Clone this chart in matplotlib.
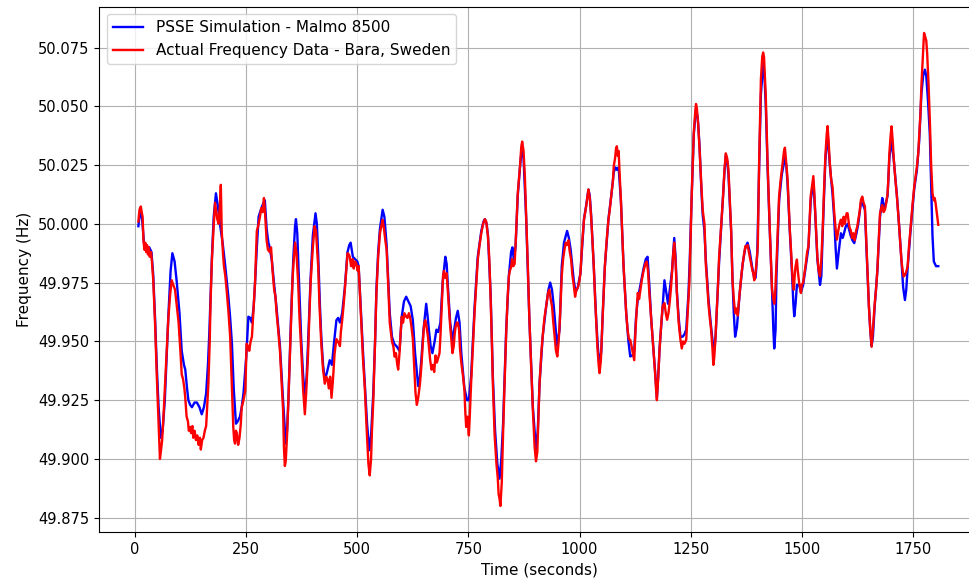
import matplotlib
matplotlib.use("Agg")
import matplotlib.pyplot as plt

# PSSE simulation (blue)
sim_time = [
    7.5, 10, 13, 16, 20, 25, 32, 37, 41, 45, 49, 53, 58, 62, 67, 71, 75, 80, 84, 89,
    94, 100, 105, 110, 113, 117, 120, 124, 128, 134, 139, 145, 150, 155, 160, 164, 167, 170, 173, 177,
    182, 186, 191, 197, 203, 210, 214, 218, 222, 227, 231, 236, 240, 244, 250, 255, 259, 263, 267, 270,
    274, 278, 283, 289, 292, 296, 300, 303, 308, 313, 318, 326, 333, 339, 342, 345, 351, 356, 360, 362,
    365, 367, 374, 378, 382, 386, 389, 395, 400, 406, 409, 412, 416, 419, 423, 427, 432, 438, 443, 448,
    453, 457, 461, 466, 472, 478, 482, 485, 490, 495, 500, 503, 509, 513, 517, 522, 527, 531, 536, 540,
    543, 547, 551, 557, 561, 566, 570, 573, 578, 583, 588, 595, 600, 605, 610, 615, 620, 625, 630, 637,
    641, 644, 649, 655, 658, 661, 665, 669, 674, 678, 682, 687, 692, 698, 701, 704, 709, 714, 718, 722,
    726, 730, 734, 741, 747, 751, 756, 760, 764, 771, 779, 784, 787, 791, 794, 800, 805, 810, 815, 820,
    824, 828, 835, 841, 846, 849, 852, 856, 861, 866, 870, 874, 880, 887, 895, 902, 906, 910, 917, 925,
    930, 934, 938, 942, 946, 950, 955, 960, 965, 972, 976, 980, 987, 991, 996, 1002, 1010, 1015, 1020, 1023,
    1026, 1032, 1037, 1041, 1045, 1049, 1052, 1057, 1065, 1072, 1077, 1081, 1084, 1088, 1093, 1099, 1105, 1110, 1114, 1119,
    1123, 1127, 1131, 1138, 1144, 1149, 1153, 1157, 1161, 1165, 1170, 1174, 1177, 1180, 1187, 1191, 1195, 1199, 1203, 1208,
    1213, 1216, 1219, 1223, 1227, 1232, 1236, 1240, 1245, 1248, 1252, 1257, 1262, 1266, 1270, 1274, 1277, 1281, 1284, 1290,
    1296, 1300, 1303, 1306, 1308, 1314, 1320, 1326, 1329, 1332, 1335, 1341, 1344, 1347, 1350, 1354, 1361, 1367, 1373, 1378,
    1383, 1388, 1393, 1396, 1400, 1404, 1408, 1413, 1416, 1419, 1423, 1428, 1433, 1436, 1438, 1441, 1443, 1449, 1455, 1462,
    1465, 1468, 1473, 1478, 1481, 1483, 1486, 1489, 1494, 1498, 1503, 1509, 1515, 1520, 1526, 1530, 1535, 1541, 1544, 1547,
    1553, 1558, 1563, 1569, 1573, 1576, 1579, 1583, 1588, 1592, 1595, 1599, 1603, 1610, 1614, 1618, 1623, 1627, 1633, 1636,
    1642, 1646, 1651, 1654, 1657, 1660, 1664, 1670, 1676, 1681, 1684, 1687, 1693, 1697, 1702, 1707, 1714, 1719, 1724, 1728,
    1732, 1735, 1738, 1745, 1753, 1759, 1764, 1769, 1773, 1777, 1780, 1784, 1788, 1792, 1794, 1797, 1802, 1807,
]
sim_freq = [
    49.999, 50.003, 50.005, 50.002, 49.992, 49.990, 49.990, 49.988, 49.978, 49.960, 49.939, 49.922, 49.909, 49.912, 49.925, 49.943, 49.961, 49.980, 49.9875, 49.984,
    49.975, 49.962, 49.946, 49.940, 49.938, 49.930, 49.925, 49.923, 49.922, 49.924, 49.924, 49.922, 49.919, 49.922, 49.928, 49.940, 49.953, 49.970, 49.986, 50.003,
    50.013, 50.008, 50.000, 49.992, 49.982, 49.969, 49.960, 49.949, 49.930, 49.915, 49.916, 49.918, 49.922, 49.928, 49.943, 49.9605, 49.960, 49.958, 49.965, 49.975,
    49.990, 50.003, 50.006, 50.009, 50.010, 49.998, 49.992, 49.990, 49.984, 49.974, 49.965, 49.948, 49.925, 49.9065, 49.912, 49.925, 49.9605, 49.985, 49.999, 50.002,
    49.996, 49.985, 49.950, 49.936, 49.926, 49.935, 49.948, 49.977, 49.995, 50.0045, 50.000, 49.987, 49.965, 49.952, 49.940, 49.9335, 49.937, 49.942, 49.940, 49.950,
    49.959, 49.960, 49.958, 49.962, 49.973, 49.988, 49.991, 49.992, 49.986, 49.985, 49.984, 49.982, 49.960, 49.945, 49.932, 49.915, 49.9037, 49.910, 49.928, 49.950,
    49.972, 49.988, 49.998, 50.006, 50.003, 49.991, 49.975, 49.962, 49.952, 49.949, 49.948, 49.946, 49.9605, 49.967, 49.969, 49.967, 49.965, 49.959, 49.945, 49.931,
    49.935, 49.942, 49.955, 49.966, 49.961, 49.955, 49.948, 49.945, 49.950, 49.955, 49.954, 49.958, 49.975, 49.986, 49.983, 49.973, 49.958, 49.950, 49.955, 49.960,
    49.963, 49.958, 49.945, 49.930, 49.925, 49.925, 49.935, 49.950, 49.965, 49.986, 49.997, 50.001, 50.002, 50.000, 49.995, 49.970, 49.935, 49.912, 49.898, 49.8916,
    49.900, 49.915, 49.955, 49.978, 49.988, 49.990, 49.985, 49.990, 50.012, 50.024, 50.032, 50.028, 50.002, 49.960, 49.922, 49.904, 49.912, 49.932, 49.952, 49.965,
    49.972, 49.975, 49.972, 49.965, 49.956, 49.948, 49.955, 49.982, 49.992, 49.997, 49.994, 49.989, 49.976, 49.971, 49.973, 49.979, 50.002, 50.008, 50.0146, 50.012,
    50.004, 49.982, 49.961, 49.948, 49.9393, 49.946, 49.961, 49.982, 50.002, 50.013, 50.022, 50.024, 50.023, 50.024, 50.010, 49.982, 49.962, 49.950, 49.9436, 49.944,
    49.946, 49.960, 49.968, 49.975, 49.981, 49.985, 49.986, 49.974, 49.960, 49.950, 49.937, 49.926, 49.935, 49.947, 49.965, 49.976, 49.971, 49.966, 49.972, 49.980,
    49.994, 49.986, 49.971, 49.960, 49.952, 49.952, 49.953, 49.955, 49.970, 49.985, 50.010, 50.038, 50.049, 50.045, 50.033, 50.015, 50.004, 49.997, 49.985, 49.968,
    49.956, 49.949, 49.9465, 49.952, 49.960, 49.984, 50.003, 50.022, 50.029, 50.027, 50.021, 49.997, 49.977, 49.962, 49.952, 49.956, 49.972, 49.983, 49.990, 49.992,
    49.988, 49.982, 49.977, 49.977, 49.988, 50.024, 50.055, 50.068, 50.063, 50.050, 50.024, 49.997, 49.972, 49.955, 49.947, 49.955, 49.978, 50.010, 50.021, 50.028,
    50.025, 50.017, 49.997, 49.979, 49.966, 49.9607, 49.966, 49.974, 49.974, 49.971, 49.974, 49.982, 49.990, 50.010, 50.018, 50.005, 49.985, 49.974, 49.978, 49.996,
    50.027, 50.0388, 50.025, 50.013, 50.002, 49.990, 49.981, 49.988, 49.996, 49.994, 49.996, 49.999, 50.000, 49.995, 49.993, 49.9918, 49.996, 50.000, 50.009, 50.009,
    50.006, 49.987, 49.965, 49.955, 49.948, 49.952, 49.965, 49.980, 50.003, 50.011, 50.008, 50.007, 50.012, 50.028, 50.0358, 50.027, 50.012, 49.999, 49.985, 49.973,
    49.9676, 49.972, 49.981, 49.998, 50.015, 50.023, 50.035, 50.055, 50.063, 50.0656, 50.063, 50.052, 50.038, 50.010, 49.995, 49.984, 49.982, 49.982,
]

# Measured frequency at Bara (red)
meas_time = [
    7.5, 10, 13, 15, 17, 19, 21, 23, 25, 27, 29, 31, 33, 36, 38, 41, 45, 49, 53, 56,
    58, 61, 64, 67, 71, 75, 79, 82.6, 86, 90, 94, 98, 102, 105, 108, 111, 113, 116, 119, 121,
    124, 126, 129, 131, 134, 137, 140, 143, 146, 148, 151, 154, 157, 160, 163, 165, 168, 170, 173, 176,
    180, 183, 185, 188, 191, 193, 195, 198, 200, 203, 206, 210, 214, 217, 221, 223, 225, 227, 229, 232,
    235, 238, 240, 244, 248, 251, 254, 257, 260, 263, 266, 270, 274, 277, 281, 284, 287, 290, 293, 296,
    299, 303, 306, 309, 313, 316, 318, 322, 326, 330, 333, 335, 337, 339, 342, 345, 348, 351, 354, 356,
    360, 363, 367, 370, 374, 378, 382, 385, 389, 392, 395, 400, 404, 407, 410, 412, 415, 419, 423, 427,
    430, 433, 436, 439, 442, 445, 449, 453, 456, 459, 461, 463, 466, 469, 472, 475, 478, 481, 483, 486,
    489, 492, 495, 498, 501, 503, 506, 509, 513, 517, 521, 525, 528, 531, 533, 536, 540, 543, 547, 551,
    554, 557, 560, 563, 566, 570, 573, 576, 578, 581, 584, 587, 590, 592, 595, 598, 600, 603, 606, 610,
    613, 616, 619, 622, 625, 629, 631, 634, 637, 641, 644, 647, 649, 651, 653, 656, 659, 661, 664, 667,
    670, 673, 676, 679, 682, 685, 687, 690, 693, 695, 698, 701, 704, 707, 709, 712, 714, 717, 719, 721,
    724, 726, 729, 731, 734, 738, 741, 743, 745, 748, 751, 753, 756, 760, 764, 768, 771, 775, 779, 783,
    787, 790, 794, 797, 800, 803, 805, 809, 813, 816, 818, 820, 822, 825, 828, 831, 835, 838, 841, 843,
    846, 848, 851, 854, 857, 861, 864, 866, 869, 871, 874, 877, 880, 884, 887, 891, 895, 899, 902, 905,
    908, 910, 914, 917, 921, 925, 929, 932, 935, 938, 941, 944, 947, 950, 953, 956, 960, 963, 966, 969,
    972, 975, 978, 981, 984, 987, 990, 993, 996, 999, 1002, 1006, 1010, 1015, 1018, 1020, 1023, 1026, 1029, 1032,
    1035, 1037, 1040, 1043, 1045, 1048, 1052, 1057, 1061, 1065, 1068, 1072, 1075, 1077, 1080, 1082, 1084, 1086, 1088, 1090,
    1093, 1096, 1099, 1102, 1105, 1108, 1111, 1114, 1117, 1120, 1123, 1126, 1129, 1131, 1134, 1137, 1140, 1144, 1148, 1151,
    1154, 1157, 1161, 1165, 1168, 1170, 1172, 1174, 1177, 1180, 1184, 1187, 1191, 1194, 1197, 1200, 1203, 1206, 1209, 1211,
    1213, 1216, 1219, 1223, 1227, 1230, 1233, 1236, 1240, 1244, 1247, 1250, 1252, 1255, 1257, 1260, 1262, 1264, 1267, 1270,
    1273, 1277, 1281, 1284, 1287, 1290, 1293, 1296, 1299, 1301, 1303, 1306, 1308, 1311, 1314, 1317, 1320, 1323, 1326, 1329,
    1332, 1335, 1338, 1341, 1344, 1347, 1350, 1353, 1356, 1358, 1361, 1364, 1367, 1370, 1373, 1376, 1378, 1381, 1384, 1386,
    1389, 1391, 1393, 1395, 1398, 1401, 1404, 1408, 1411, 1413, 1415, 1417, 1419, 1423, 1428, 1431, 1433, 1436, 1438, 1440,
    1443, 1446, 1449, 1452, 1455, 1458, 1460, 1462, 1465, 1468, 1471, 1473, 1476, 1478, 1480, 1482, 1484, 1486, 1489, 1491,
    1494, 1496, 1498, 1500, 1503, 1506, 1509, 1512, 1515, 1518, 1520, 1523, 1526, 1528, 1530, 1533, 1535, 1538, 1541, 1544,
    1547, 1550, 1553, 1556, 1558, 1560, 1563, 1566, 1569, 1571, 1573, 1576, 1579, 1582, 1585, 1588, 1591, 1594, 1597, 1599,
    1601, 1603, 1606, 1608, 1610, 1613, 1616, 1619, 1622, 1625, 1627, 1630, 1633, 1636, 1639, 1642, 1644, 1646, 1649, 1651,
    1654, 1657, 1660, 1664, 1667, 1670, 1673, 1676, 1679, 1681, 1684, 1687, 1690, 1693, 1695, 1697, 1700, 1702, 1705, 1707,
    1710, 1714, 1717, 1719, 1722, 1724, 1727, 1729, 1731, 1734, 1738, 1741, 1745, 1749, 1753, 1756, 1759, 1762, 1764, 1767,
    1769, 1772, 1775, 1777, 1780, 1782, 1785, 1788, 1791, 1794, 1797, 1799, 1801, 1804, 1807,
]
meas_freq = [
    50.001, 50.006, 50.0074, 50.005, 50.003, 49.993, 49.989, 49.992, 49.988, 49.991, 49.987, 49.990, 49.986, 49.988, 49.984, 49.976, 49.958, 49.935, 49.915, 49.900,
    49.903, 49.908, 49.918, 49.930, 49.945, 49.960, 49.970, 49.976, 49.974, 49.972, 49.965, 49.958, 49.946, 49.936, 49.934, 49.930, 49.926, 49.918, 49.916, 49.912,
    49.9136, 49.911, 49.914, 49.909, 49.912, 49.908, 49.910, 49.906, 49.909, 49.904, 49.908, 49.909, 49.912, 49.914, 49.925, 49.932, 49.950, 49.9676, 49.985, 49.996,
    50.009, 50.005, 50.002, 50.000, 50.008, 50.0166, 49.997, 49.987, 49.982, 49.978, 49.972, 49.963, 49.952, 49.935, 49.9136, 49.908, 49.9065, 49.912, 49.911, 49.906,
    49.909, 49.915, 49.922, 49.925, 49.929, 49.949, 49.948, 49.946, 49.950, 49.952, 49.962, 49.975, 49.997, 49.999, 50.003, 50.0067, 50.005, 50.011, 50.003, 49.993,
    49.989, 49.988, 49.990, 49.981, 49.972, 49.969, 49.963, 49.955, 49.946, 49.932, 49.921, 49.905, 49.897, 49.899, 49.910, 49.925, 49.942, 49.960, 49.975, 49.982,
    49.992, 49.988, 49.975, 49.960, 49.946, 49.930, 49.919, 49.928, 49.9435, 49.960, 49.975, 49.990, 49.999, 49.997, 49.988, 49.982, 49.965, 49.949, 49.938, 49.932,
    49.935, 49.934, 49.930, 49.935, 49.926, 49.933, 49.945, 49.951, 49.950, 49.949, 49.948, 49.954, 49.959, 49.965, 49.972, 49.980, 49.9875, 49.987, 49.986, 49.982,
    49.985, 49.981, 49.984, 49.983, 49.980, 49.982, 49.970, 49.958, 49.942, 49.930, 49.913, 49.898, 49.893, 49.900, 49.912, 49.925, 49.950, 49.9705, 49.986, 49.996,
    49.999, 50.0017, 49.998, 49.993, 49.989, 49.972, 49.958, 49.953, 49.950, 49.948, 49.9435, 49.945, 49.940, 49.938, 49.945, 49.955, 49.9605, 49.958, 49.962, 49.9605,
    49.960, 49.962, 49.960, 49.956, 49.951, 49.935, 49.928, 49.923, 49.926, 49.932, 49.939, 49.948, 49.954, 49.958, 49.959, 49.956, 49.952, 49.948, 49.942, 49.938,
    49.940, 49.937, 49.944, 49.941, 49.943, 49.945, 49.952, 49.965, 49.978, 49.980, 49.977, 49.979, 49.9705, 49.962, 49.9563, 49.950, 49.945, 49.948, 49.953, 49.956,
    49.958, 49.958, 49.955, 49.947, 49.941, 49.935, 49.9293, 49.920, 49.9136, 49.918, 49.910, 49.918, 49.932, 49.948, 49.963, 49.975, 49.9847, 49.991, 49.996, 50.000,
    50.002, 50.001, 49.9946, 49.985, 49.968, 49.948, 49.932, 49.910, 49.898, 49.892, 49.885, 49.883, 49.880, 49.890, 49.911, 49.930, 49.9535, 49.968, 49.9776, 49.980,
    49.9815, 49.985, 49.982, 49.983, 49.995, 50.013, 50.020, 50.0244, 50.033, 50.035, 50.031, 50.020, 50.003, 49.980, 49.9605, 49.940, 49.9208, 49.905, 49.899, 49.903,
    49.920, 49.932, 49.945, 49.952, 49.960, 49.965, 49.9705, 49.972, 49.968, 49.965, 49.958, 49.952, 49.946, 49.9436, 49.950, 49.960, 49.978, 49.985, 49.989, 49.992,
    49.991, 49.993, 49.988, 49.985, 49.978, 49.974, 49.969, 49.972, 49.9727, 49.975, 49.979, 49.992, 50.0018, 50.0075, 50.012, 50.0146, 50.011, 50.003, 49.993, 49.982,
    49.968, 49.9607, 49.948, 49.940, 49.9365, 49.942, 49.9607, 49.982, 49.993, 50.0018, 50.006, 50.0132, 50.018, 50.0246, 50.028, 50.032, 50.033, 50.029, 50.031, 50.022,
    50.0104, 49.996, 49.982, 49.972, 49.962, 49.955, 49.951, 49.9507, 49.948, 49.945, 49.942, 49.955, 49.965, 49.9706, 49.968, 49.972, 49.976, 49.980, 49.983, 49.984,
    49.980, 49.9706, 49.960, 49.9493, 49.942, 49.9365, 49.930, 49.925, 49.935, 49.9465, 49.958, 49.965, 49.9663, 49.962, 49.9592, 49.962, 49.967, 49.9734, 49.982, 49.988,
    49.992, 49.984, 49.9706, 49.958, 49.9507, 49.947, 49.950, 49.949, 49.9507, 49.965, 49.975, 49.995, 50.0104, 50.028, 50.0388, 50.047, 50.051, 50.049, 50.042, 50.0317,
    50.020, 50.006, 50.000, 49.983, 49.975, 49.966, 49.960, 49.955, 49.947, 49.940, 49.943, 49.952, 49.9607, 49.972, 49.986, 49.995, 50.0033, 50.012, 50.023, 50.030,
    50.028, 50.023, 50.010, 49.9976, 49.9763, 49.968, 49.962, 49.964, 49.961, 49.966, 49.972, 49.978, 49.983, 49.987, 49.9905, 49.990, 49.991, 49.988, 49.985, 49.983,
    49.980, 49.979, 49.976, 49.9777, 49.983, 49.9905, 50.026, 50.0615, 50.071, 50.0729, 50.071, 50.063, 50.054, 50.026, 49.9976, 49.982, 49.972, 49.968, 49.966, 49.970,
    49.983, 49.998, 50.0118, 50.018, 50.023, 50.028, 50.031, 50.0324, 50.026, 50.019, 50.006, 49.9976, 49.988, 49.9805, 49.975, 49.972, 49.978, 49.982, 49.9848, 49.980,
    49.975, 49.973, 49.9706, 49.974, 49.975, 49.979, 49.983, 49.988, 49.9905, 50.003, 50.0118, 50.016, 50.0203, 50.014, 50.006, 49.995, 49.986, 49.980, 49.9777, 49.985,
    49.9976, 50.014, 50.0288, 50.038, 50.0416, 50.036, 50.026, 50.019, 50.016, 50.010, 50.0047, 49.998, 49.9933, 49.997, 50.000, 50.0018, 49.999, 50.003, 50.000, 50.003,
    50.0045, 50.0045, 50.000, 49.998, 49.9974, 49.994, 49.996, 49.993, 49.997, 49.999, 50.0017, 50.005, 50.0102, 50.0116, 50.009, 50.0074, 49.998, 49.9875, 49.975, 49.9648,
    49.955, 49.9477, 49.955, 49.966, 49.972, 49.9804, 49.993, 50.0045, 50.007, 50.008, 50.005, 50.006, 50.009, 50.013, 50.020, 50.030, 50.038, 50.0415, 50.034, 50.0273,
    50.020, 50.0116, 50.004, 49.9989, 49.990, 49.9847, 49.980, 49.9776, 49.978, 49.979, 49.9818, 49.990, 49.9989, 50.008, 50.0159, 50.020, 50.0244, 50.030, 50.0372, 50.047,
    50.0585, 50.070, 50.0812, 50.080, 50.078, 50.0727, 50.060, 50.0443, 50.025, 50.013, 50.010, 50.011, 50.0088, 50.004, 49.9996,
]

fig = plt.figure(figsize=(9.69, 5.83), dpi=100)
# the reference is cropped on the right, so the axes run past the canvas edge
ax = fig.add_axes([0.1022, 0.087, 0.9092, 0.9016])

ax.plot(sim_time, sim_freq, color="blue", linewidth=1.7, label="PSSE Simulation - Malmo 8500")
ax.plot(meas_time, meas_freq, color="red", linewidth=1.7, label="Actual Frequency Data - Bara, Sweden")

ax.set_xlim(-81, 1901)
ax.set_ylim(49.8688, 50.0924)
ax.set_yticks([49.875, 49.9, 49.925, 49.95, 49.975, 50.0, 50.025, 50.05, 50.075])
ax.yaxis.set_major_formatter(matplotlib.ticker.FormatStrFormatter("%.3f"))
ax.tick_params(labelsize=10.5)
ax.grid(True)
ax.set_xlabel("Time (seconds)", fontsize=11)
ax.set_ylabel("Frequency (Hz)", fontsize=11)
ax.legend(loc="upper left", fontsize=11)

fig.savefig("out.png", dpi=100)
